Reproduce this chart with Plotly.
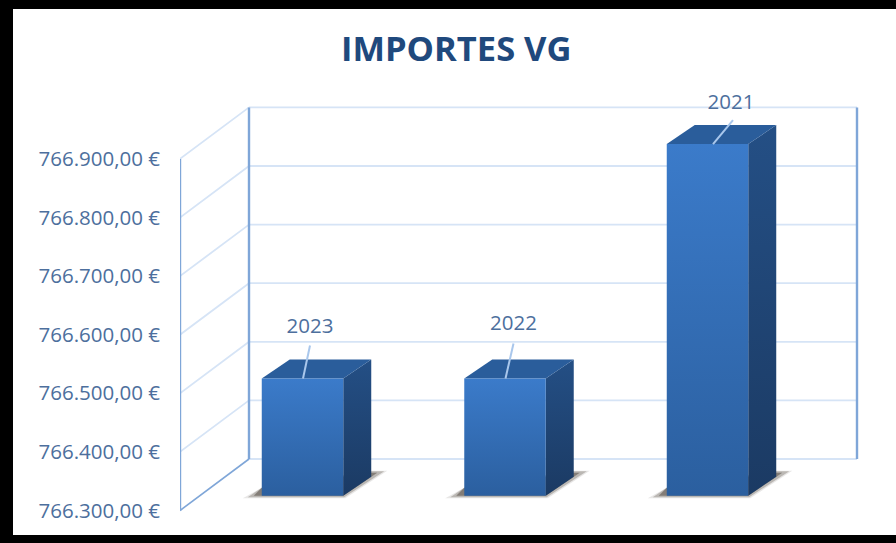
import plotly.graph_objects as go

# ---- data ----
categories = ["2023", "2022", "2021"]
values = [766500, 766500, 766900]
tick_values = [766300, 766400, 766500, 766600, 766700, 766800, 766900]
tick_labels = ["766.300,00 €", "766.400,00 €", "766.500,00 €", "766.600,00 €",
               "766.700,00 €", "766.800,00 €", "766.900,00 €"]
title_text = "IMPORTES VG"

# ---- oblique projection of the 3D box ----
PX_X = 202.5              # px per category step
PX_Y = 0.586              # px per euro
def px_dx(p): return p / PX_X
def px_dv(p): return p / PX_Y

FLOOR = tick_values[0]
X0 = -(302.5 - 180) / PX_X                    # front-left wall corner
XMAX = X0 + 680 / PX_X
WALL_DX, WALL_DV = px_dx(69), px_dv(51.5)     # front-to-back wall offset
X_RIGHT = X0 + px_dx(677)
HALF = 0.2012
BAR_LIFT = px_dv(14.8)                        # bars stand inside the floor
BOX_DX, BOX_DV = px_dx(28), px_dv(19)         # bar depth

GRID = "#d6e4f6"
AXIS = "#7fa6d8"
TEXT = "#4d6f9d"

fig = go.Figure()

def line(xs, ys, color, width):
    fig.add_trace(go.Scatter(x=xs, y=ys, mode="lines", line=dict(color=color, width=width),
                             hoverinfo="skip", showlegend=False, cliponaxis=False))

def poly(xs, ys, colors=None, solid=None):
    # colors = (bottom colour, top colour)
    kw = dict(fillcolor=solid) if solid else dict(
        fillgradient=dict(type="vertical", colorscale=[[0, colors[0]], [1, colors[1]]]))
    fig.add_trace(go.Scatter(x=xs + xs[:1], y=ys + ys[:1], mode="lines", fill="toself",
                             line=dict(width=0), hoverinfo="skip", showlegend=False,
                             cliponaxis=False, **kw))

# walls
for t in tick_values:
    line([X0 + WALL_DX, X_RIGHT], [t + WALL_DV] * 2, GRID, 1.8)
    if t != FLOOR:
        line([X0, X0 + WALL_DX], [t, t + WALL_DV], GRID, 1.8)
line([X0, X0 + WALL_DX], [FLOOR, FLOOR + WALL_DV], AXIS, 1.6)
line([X0, X0], [tick_values[0], tick_values[-1]], AXIS, 2.4)
line([X0 + WALL_DX] * 2, [FLOOR + WALL_DV, tick_values[-1] + WALL_DV], AXIS, 2.4)
line([X_RIGHT] * 2, [FLOOR + WALL_DV, tick_values[-1] + WALL_DV], AXIS, 2.4)

# bars
for i, v in enumerate(values):
    l, r = i - HALF, i + HALF
    lo, hi = FLOOR + BAR_LIFT, v + BAR_LIFT
    # soft floor shadow (pale halo, mid layer, darker core)
    sx = [l - px_dx(19), r + px_dx(2), r + px_dx(44), r + px_dx(28), l]
    sy = [lo - px_dv(2.5), lo - px_dv(2.5), lo + px_dv(25), lo + px_dv(25), lo + px_dv(8)]
    poly(sx, sy, solid="rgba(190,186,182,0.35)")
    sx = [l - px_dx(14), r + px_dx(1), r + px_dx(41), r + px_dx(28), l]
    sy = [lo - px_dv(1.5), lo - px_dv(1.5), lo + px_dv(24.5), lo + px_dv(24.5), lo + px_dv(8)]
    poly(sx, sy, solid="rgba(130,124,118,0.45)")
    sx = [l - px_dx(8), r, r + px_dx(34), r + px_dx(28), l]
    sy = [lo, lo, lo + px_dv(23), lo + px_dv(23), lo + px_dv(8)]
    poly(sx, sy, solid="rgba(85,78,70,0.55)")
    # side
    poly([r, r + BOX_DX, r + BOX_DX, r], [lo, lo + BOX_DV, hi + BOX_DV, hi], ("#1b3a63", "#244f85"))
    # top
    poly([l, r, r + BOX_DX, l + BOX_DX], [hi, hi, hi + BOX_DV, hi + BOX_DV], solid="#2a5d9b")
    # front
    poly([l, r, r, l], [lo, lo, hi, hi], ("#2b5f9f", "#3b7bca"))

# data labels with leader lines
leader_px = [(7, 33), (8, 35), (20, 24)]      # leader end, from front-top edge
label_px = [(7, 51), (8, 54), (18, 40)]       # label centre, from front-top edge
anchor_px = [0.5, 0.5, 5.5]
for i, v in enumerate(values):
    hi = v + BAR_LIFT
    x0 = i + px_dx(anchor_px[i])
    line([x0, x0 + px_dx(leader_px[i][0])], [hi, hi + px_dv(leader_px[i][1])], "#a9c7ec", 2)
    fig.add_trace(go.Scatter(x=[x0 + px_dx(label_px[i][0])], y=[hi + px_dv(label_px[i][1])],
                             mode="text", text=[categories[i]], cliponaxis=False,
                             textfont=dict(family="Open Sans", size=20.5, color=TEXT),
                             hoverinfo="skip", showlegend=False))

# frame (top, left, bottom)
W, H, TOP, BOT = 680, 440, 80, 520
def fx(p): return (p - 180) / W
def fy(p): return (BOT - p) / H
shapes = []
for a, b, c, d in [(0, 896, 0, 9), (0, 13, 0, 543), (0, 896, 535, 543)]:
    shapes.append(dict(type="rect", xref="paper", yref="paper", x0=fx(a), x1=fx(b),
                       y0=fy(c), y1=fy(d), fillcolor="black", line=dict(width=0)))

ybottom = FLOOR - px_dv(BOT - 510.5)
ytop = FLOOR + px_dv(510.5 - TOP)

fig.update_layout(
    width=896, height=543, autosize=False,
    margin=dict(l=180, r=36, t=TOP, b=543 - BOT),
    paper_bgcolor="white", plot_bgcolor="rgba(0,0,0,0)",
    showlegend=False, shapes=shapes,
    annotations=[dict(text=title_text, xref="paper", yref="paper", x=fx(456), y=fy(48),
                      xanchor="center", yanchor="middle", showarrow=False,
                      font=dict(family="Open Sans", size=34.5, color="#1f497d", weight="bold"))],
    xaxis=dict(range=[X0, XMAX], visible=False, fixedrange=True),
    yaxis=dict(range=[ybottom, ytop], showgrid=False, zeroline=False, showline=False,
               tickmode="array", tickvals=tick_values, ticktext=tick_labels,
               ticks="", ticklabelstandoff=19, fixedrange=True,
               tickfont=dict(family="Open Sans", size=20.5, color=TEXT)),
)
fig.write_html("out.html", config={"displayModeBar": False},
               post_script="document.body.style.margin='0';")
